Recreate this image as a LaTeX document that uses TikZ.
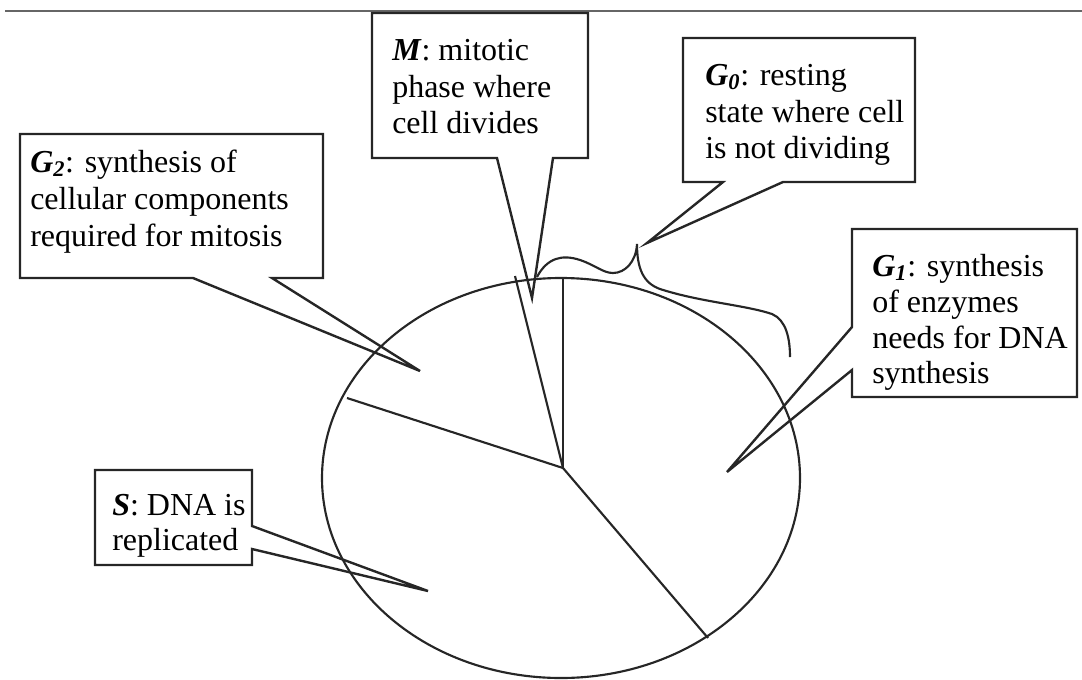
\documentclass[tikz,border=0pt]{standalone}
\usepackage{fontspec}
\setmainfont{Liberation Serif}
\begin{document}
\begin{tikzpicture}[x=0.75pt,y=-0.75pt,
  callout/.style={draw=black!85,line width=1.8pt,line join=miter},
  pieline/.style={draw=black!85,line width=1.6pt},
  lbl/.style={anchor=base west,inner sep=0pt,font=\fontsize{24}{27.5}\selectfont}]
\useasboundingbox (0,0) rectangle (1082,679);
% page rule
\coordinate (r1) at (5,11);
\coordinate (r2) at (1082,11);
\draw[black!60,line width=1.6pt] (r1) -- (r2);
% ellipse and sectors
\coordinate (E) at (561,478);
\draw[pieline] (E) ellipse [x radius=239, y radius=200];
\coordinate (C) at (563,468);
\coordinate (pM1) at (563,278);
\coordinate (pM2) at (515,276);
\coordinate (pS) at (347,398);
\coordinate (pG1) at (708,638);
\draw[pieline] (C) -- (pM1);
\draw[pieline] (C) -- (pM2);
\draw[pieline] (C) -- (pS);
\draw[pieline] (C) -- (pG1);
% brace for G0
\draw[pieline] (537,277) .. controls (547,258) and (562,254) .. (580,260)
  .. controls (595,265) and (603,273) .. (613,273)
  .. controls (625,273) and (636,262) .. (637,244)
  .. controls (637,268) and (643,283) .. (660,289)
  .. controls (700,302) and (745,305) .. (772,314)
  .. controls (786,320) and (790,338) .. (790,357);
% callouts
\draw[callout] (372,13) -- (588,13) -- (588,158) -- (553,158) -- (532,298) -- (497,158) -- (372,158) -- cycle;
\draw[callout] (683,38) -- (915,38) -- (915,182) -- (783,182) -- (647,243) -- (723,182) -- (683,182) -- cycle;
\draw[callout] (852,229) -- (1077,229) -- (1077,397) -- (852,397) -- (852,370) -- (727,472) -- (852,327) -- cycle;
\draw[callout] (20,134) -- (323,134) -- (323,278) -- (272,278) -- (420,371) -- (193,278) -- (20,278) -- cycle;
\draw[callout] (95,470) -- (252,470) -- (252,526) -- (428,591) -- (252,549) -- (252,565) -- (95,565) -- cycle;
% texts
\node[lbl] (m1) at (392,60) {\textbf{\textit{M}}: mitotic};
\node[lbl] (m2) at (392,97) {phase where};
\node[lbl] (m3) at (392,133) {cell divides};
\node[lbl] (z1) at (705,85) {\textbf{\textit{G\textsubscript{0}}}: resting};
\node[lbl] (z2) at (705,122) {state where cell};
\node[lbl] (z3) at (705,158) {is not dividing};
\node[lbl] (a1) at (872,276) {\textbf{\textit{G\textsubscript{1}}}: synthesis};
\node[lbl] (a2) at (872,312) {of enzymes};
\node[lbl] (a3) at (872,348) {needs for DNA};
\node[lbl] (a4) at (872,383) {synthesis};
\node[lbl] (b1) at (30,172) {\textbf{\textit{G\textsubscript{2}}}: synthesis of};
\node[lbl] (b2) at (30,209) {cellular components};
\node[lbl] (b3) at (30,246) {required for mitosis};
\node[lbl] (s1) at (112,515) {\textbf{\textit{S}}: DNA is};
\node[lbl] (s2) at (112,550) {replicated};
\end{tikzpicture}
\end{document}
